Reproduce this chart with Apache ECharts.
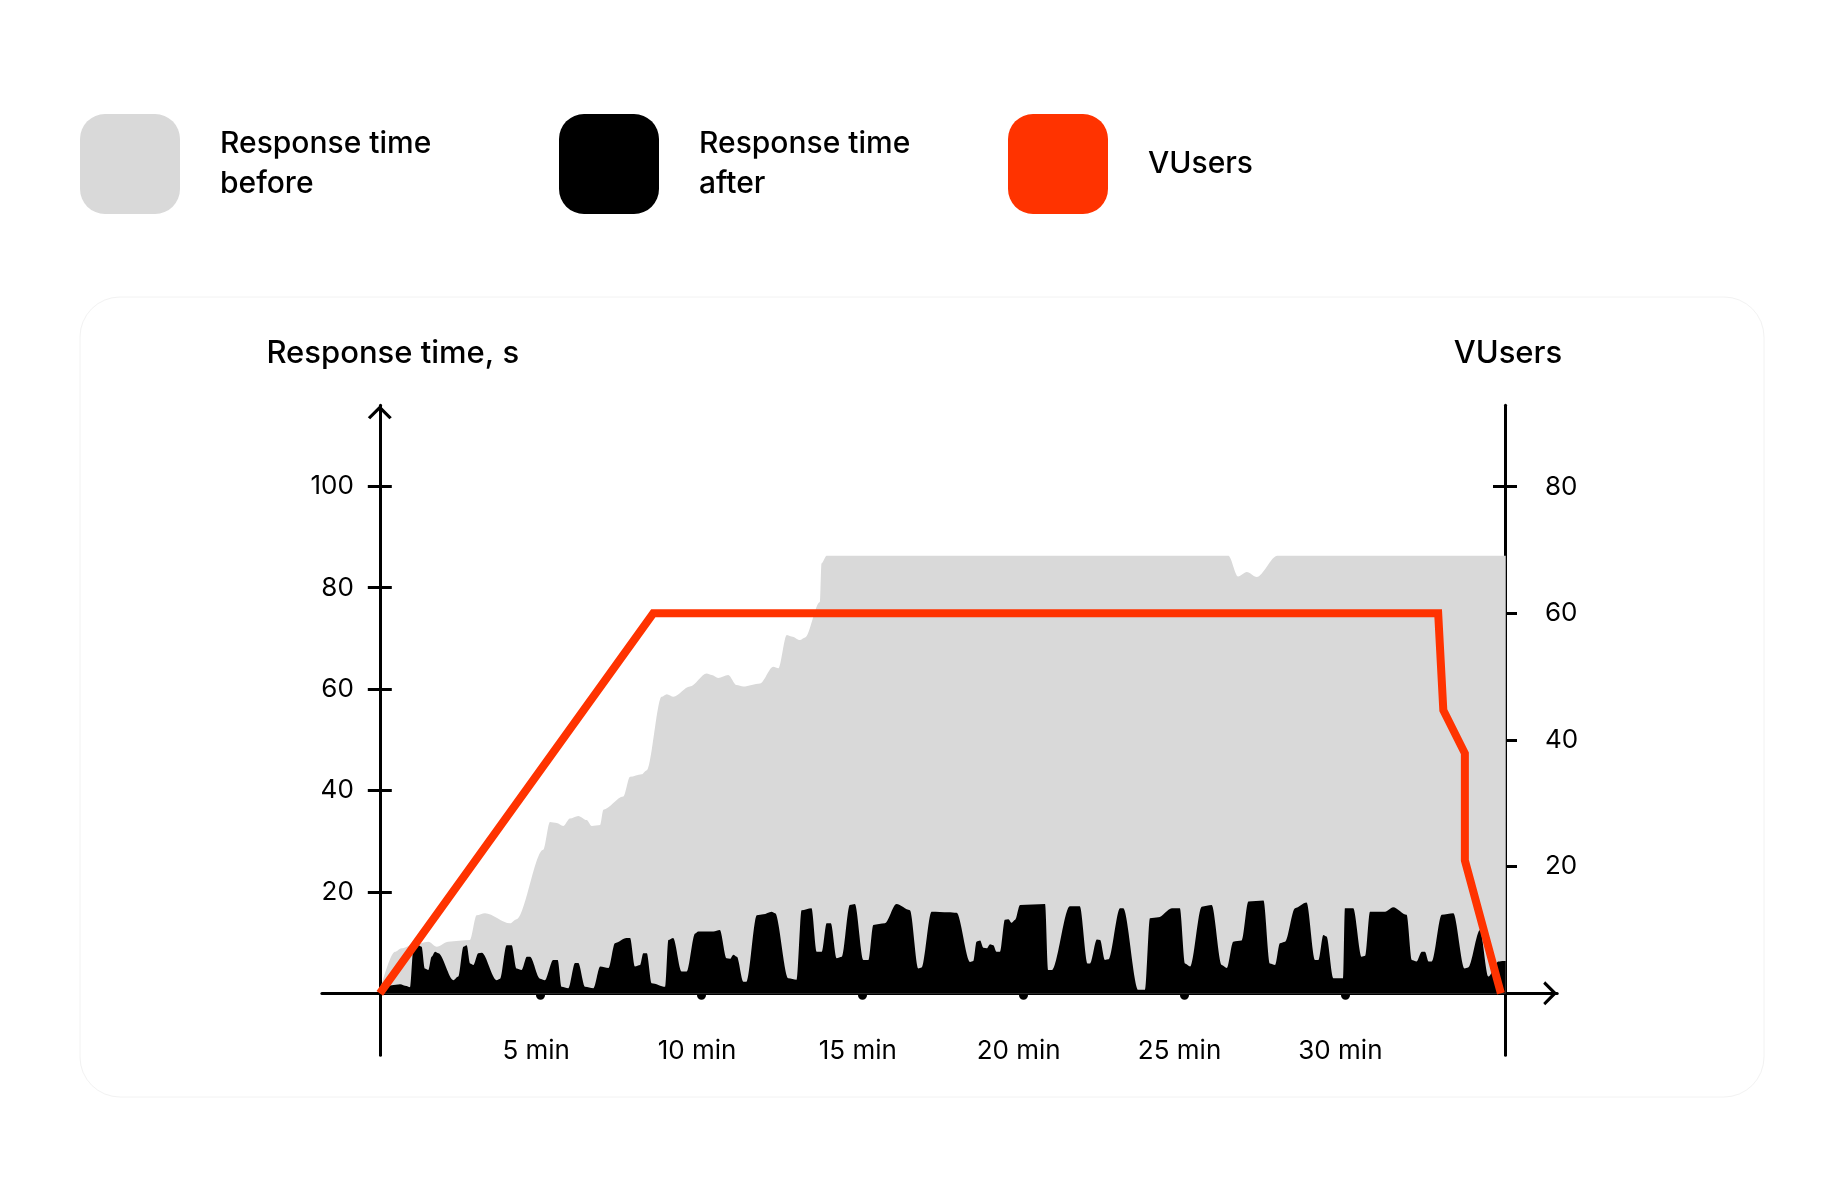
<!DOCTYPE html>
<html>
<head>
<meta charset="utf-8">
<title>Response time vs VUsers</title>
<script src="https://cdn.jsdelivr.net/npm/echarts@6/dist/echarts.min.js"></script>
<style>
  html, body { margin: 0; padding: 0; background: #fff; }
  #chart_main { width: 1844px; height: 1200px; }
</style>
</head>
<body>
<div id="chart_main"></div>
<script>
// minutes on x, seconds (left) / users (right) on y
var minuteTicks = [5, 10, 15, 20, 25, 30];
var responseTicks = [20, 40, 60, 80, 100];
var userTicks = [20, 40, 60, 80];

var responseBefore = [
    [0, 0.5], [0.47, 8.2], [0.68, 8.9], [1.04, 9.6], [1.51, 10.2], [1.77, 9.2], [2.13, 10.2],
    [2.8, 10.5], [3.01, 15.4], [3.27, 15.8], [4.05, 13.8], [4.25, 14.6], [5.08, 28.3],
    [5.29, 33.8], [5.5, 33.6], [5.7, 33.0], [5.91, 34.5], [6.17, 35.0], [6.43, 34.2],
    [6.59, 33.0], [6.85, 33.2], [6.95, 36.2], [7.57, 38.8], [7.78, 42.7], [8.14, 43.2],
    [8.3, 44.0], [8.76, 58.5], [8.92, 59.0], [9.13, 58.5], [9.64, 60.5], [10.16, 63.1],
    [10.32, 62.8], [10.52, 62.2], [10.83, 62.8], [11.09, 60.8], [11.3, 60.5], [11.82, 61.1],
    [12.23, 64.4], [12.39, 64.1], [12.65, 70.7], [12.8, 70.4], [13.06, 69.7], [13.22, 70.2],
    [13.68, 77.2], [13.73, 84.8], [13.89, 86.3], [26.38, 86.3], [26.68, 82.2], [26.95, 83.1],
    [27.26, 82.1], [27.9, 86.3], [34.95, 86.3], [35, 86.3]
];

var responseAfter = [
    [0.06, 0.65], [0.37, 1.6], [0.63, 1.8], [0.83, 1.45], [0.94, 1.2], [1.04, 8.5], [1.2, 9.5],
    [1.3, 9.2], [1.4, 4.9], [1.51, 4.6], [1.61, 7.2], [1.72, 8.2], [1.82, 7.9], [2.29, 2.6],
    [2.44, 3.3], [2.6, 9.2], [2.7, 9.5], [2.81, 5.9], [2.91, 5.6], [3.06, 7.9], [3.17, 8.0],
    [3.63, 2.6], [3.74, 2.9], [3.94, 9.5], [4.1, 9.5], [4.25, 4.9], [4.41, 4.6], [4.57, 7.2],
    [4.67, 7.2], [4.98, 2.9], [5.13, 2.6], [5.39, 6.6], [5.53, 6.6], [5.65, 1.3], [5.86, 1.0],
    [6.07, 6.0], [6.17, 6.0], [6.38, 1.3], [6.64, 1.0], [6.85, 5.3], [7.11, 5.0], [7.31, 9.9],
    [7.67, 10.9], [7.78, 10.9], [7.93, 5.3], [8.09, 5.6], [8.19, 7.9], [8.3, 7.9], [8.45, 2.0],
    [8.87, 1.3], [8.97, 10.5], [9.12, 10.9], [9.38, 4.3], [9.54, 4.3], [9.8, 11.8], [9.9, 12.2],
    [10.37, 12.2], [10.57, 12.5], [10.78, 6.9], [10.89, 6.8], [10.99, 7.6], [11.1, 7.2],
    [11.3, 2.3], [11.4, 2.3], [11.72, 15.4], [11.92, 15.6], [12.18, 16.1], [12.29, 15.8],
    [12.7, 3.0], [12.96, 2.7], [13.11, 16.4], [13.42, 16.8], [13.58, 8.2], [13.74, 8.2],
    [13.89, 13.8], [14.02, 13.8], [14.2, 6.9], [14.36, 7.2], [14.61, 17.4], [14.77, 17.6],
    [15.03, 6.6], [15.19, 6.6], [15.34, 13.5], [15.7, 13.8], [16.06, 17.6], [16.48, 16.4],
    [16.74, 4.9], [16.84, 5.1], [17.15, 16.1], [17.67, 16.0], [17.93, 15.9], [18.35, 6.2],
    [18.45, 6.4], [18.55, 10.2], [18.66, 10.4], [18.76, 9.0], [18.87, 8.9], [18.97, 9.7],
    [19.07, 9.5], [19.17, 8.2], [19.28, 8.2], [19.43, 14.5], [19.54, 14.6], [19.64, 13.9],
    [19.75, 14.5], [19.9, 17.4], [20.68, 17.6], [20.78, 4.6], [20.89, 4.6], [21.45, 17.2],
    [21.76, 17.2], [22.0, 5.9], [22.08, 5.9], [22.29, 10.6], [22.39, 10.5], [22.54, 6.6],
    [22.65, 6.7], [23.01, 16.8], [23.11, 16.8], [23.58, 0.7], [23.79, 0.7], [23.94, 14.8],
    [24.2, 15.0], [24.62, 16.8], [24.87, 16.8], [25.03, 5.9], [25.19, 5.3], [25.55, 17.1],
    [25.86, 17.4], [26.17, 5.6], [26.33, 5.0], [26.53, 10.2], [26.79, 10.4], [27.0, 18.1],
    [27.47, 18.3], [27.67, 5.9], [27.83, 5.6], [27.98, 9.9], [28.14, 10.2], [28.45, 16.8],
    [28.81, 17.9], [29.07, 6.6], [29.18, 6.6], [29.33, 11.5], [29.43, 11.2], [29.64, 3.0],
    [29.95, 3.0], [30.0, 16.8], [30.26, 16.8], [30.52, 7.2], [30.63, 7.4], [30.78, 16.1],
    [31.25, 16.1], [31.5, 17.0], [31.92, 15.5], [32.08, 6.6], [32.23, 6.3], [32.39, 8.2],
    [32.49, 8.2], [32.6, 6.3], [32.7, 6.3], [33.01, 15.5], [33.37, 15.8], [33.72, 4.9],
    [33.83, 5.1], [34.2, 12.5], [34.46, 3.3], [34.77, 6.3], [34.93, 6.4], [35, 6.4]
];

var vusers = [
    [0, 0], [8.5, 60], [32.9, 60], [33.06, 44.7], [33.73, 37.9], [33.73, 21], [34.85, 0]
];

var legendText = {
    'Response time before': 'Response time\nbefore',
    'Response time after': 'Response time\nafter',
    'VUsers': 'VUsers'
};

var fontFamily = 'Inter, "Noto Sans", sans-serif';
var chevron = 'path://M0,12 L12,0 L24,12 L21.6,14 L12,4.6 L2.4,14 Z';

$chart = echarts.init(document.getElementById('chart_main'));

function legendFor(name, left) {
    return {
        left: left,
        top: 114,
        padding: 0,
        icon: 'roundRect',
        itemWidth: 100,
        itemHeight: 100,
        selectedMode: false,
        data: [name],
        itemStyle: { borderWidth: 0 },
        formatter: function (n) { return legendText[n]; },
        textStyle: {
            fontFamily: fontFamily,
            fontSize: 30,
            fontWeight: 500,
            lineHeight: 40,
            color: '#000',
            padding: [6, 0, 0, 35]
        }
    };
}

function tickAxis(min, max, position, offset, ticks) {
    // second axis on the same line, only to draw the inner half of each tick
    return {
        type: 'value',
        min: min,
        max: max,
        position: position,
        offset: offset,
        axisLine: { show: false, onZero: false },
        axisTick: {
            show: true,
            inside: true,
            length: 12,
            customValues: ticks,
            lineStyle: { color: '#000', width: 3 }
        },
        axisLabel: { show: false },
        splitLine: { show: false }
    };
}

var option = {
    animation: false,
    backgroundColor: '#fff',
    textStyle: { fontFamily: fontFamily },
    graphic: [{
        type: 'rect',
        z: -10,
        shape: { x: 80, y: 297, width: 1684, height: 800, r: 40 },
        style: { fill: '#fff', stroke: '#f2f2f2', lineWidth: 1 }
    }],
    legend: [
        legendFor('Response time before', 80),
        legendFor('Response time after', 559),
        legendFor('VUsers', 1008)
    ],
    grid: {
        left: 321.9,
        top: 405.2,
        width: 1235.3,
        height: 650
    },
    xAxis: {
        type: 'value',
        min: -1.8,
        max: 36.6,
        axisLine: {
            onZero: true,
            symbol: ['none', chevron],
            symbolSize: [24, 14],
            symbolOffset: [0, -7],
            lineStyle: { color: '#000', width: 3 }
        },
        axisTick: {
            customValues: minuteTicks,
            length: 2,
            lineStyle: { color: '#000', width: 9, cap: 'round' }
        },
        axisLabel: {
            customValues: minuteTicks,
            formatter: function (v) { return v + ' min'; },
            margin: -17,
            padding: [0, 9, 0, 0],
            fontSize: 26,
            color: '#000',
            fontFamily: fontFamily
        },
        splitLine: { show: false }
    },
    yAxis: [{
        type: 'value',
        min: -12.2,
        max: 116,
        position: 'left',
        offset: -57.9,
        name: 'Response time, s',
        nameLocation: 'end',
        nameGap: 36,
        nameTextStyle: {
            fontSize: 31,
            fontWeight: 500,
            color: '#000',
            fontFamily: fontFamily,
            padding: [0, 0, 0, 26]
        },
        axisLine: {
            show: true,
            onZero: false,
            symbol: ['none', chevron],
            symbolSize: [24, 14],
            symbolOffset: [0, -7],
            lineStyle: { color: '#000', width: 3 }
        },
        axisTick: {
            show: true,
            length: 12,
            customValues: responseTicks,
            lineStyle: { color: '#000', width: 3 }
        },
        axisLabel: {
            customValues: responseTicks,
            margin: 26,
            fontSize: 26,
            color: '#000',
            fontFamily: fontFamily
        },
        splitLine: { show: false }
    }, {
        type: 'value',
        min: -9.767,
        max: 92.87,
        position: 'right',
        offset: -52.2,
        name: 'VUsers',
        nameLocation: 'end',
        nameGap: 36,
        nameTextStyle: {
            fontSize: 31,
            fontWeight: 500,
            color: '#000',
            fontFamily: fontFamily,
            padding: [0, 0, 0, 6]
        },
        axisLine: {
            show: true,
            onZero: false,
            lineStyle: { color: '#000', width: 3 }
        },
        axisTick: {
            show: true,
            length: 12,
            customValues: userTicks,
            lineStyle: { color: '#000', width: 3 }
        },
        axisLabel: {
            customValues: userTicks,
            margin: 40,
            fontSize: 26,
            color: '#000',
            fontFamily: fontFamily
        },
        splitLine: { show: false }
    },
        tickAxis(-12.2, 116, 'left', -57.9, responseTicks),
        tickAxis(-9.767, 92.87, 'right', -52.2, userTicks)
    ],
    series: [{
        name: 'Response time before',
        type: 'line',
        yAxisIndex: 0,
        data: responseBefore,
        smooth: 0.3,
        smoothMonotone: 'x',
        showSymbol: false,
        silent: true,
        z: 1,
        itemStyle: { color: '#d9d9d9' },
        lineStyle: { width: 0 },
        areaStyle: { color: '#d9d9d9', opacity: 1 }
    }, {
        name: 'Response time after',
        type: 'line',
        yAxisIndex: 0,
        data: responseAfter,
        smooth: 0.3,
        smoothMonotone: 'x',
        showSymbol: false,
        silent: true,
        z: 2,
        itemStyle: { color: '#000' },
        lineStyle: { width: 0 },
        areaStyle: { color: '#000', opacity: 1 }
    }, {
        name: 'VUsers',
        type: 'line',
        yAxisIndex: 1,
        data: vusers,
        showSymbol: false,
        silent: true,
        z: 3,
        itemStyle: { color: '#ff3300' },
        lineStyle: { color: '#ff3300', width: 8, join: 'miter' }
    }]
};

$chart.setOption(option);
</script>
</body>
</html>
